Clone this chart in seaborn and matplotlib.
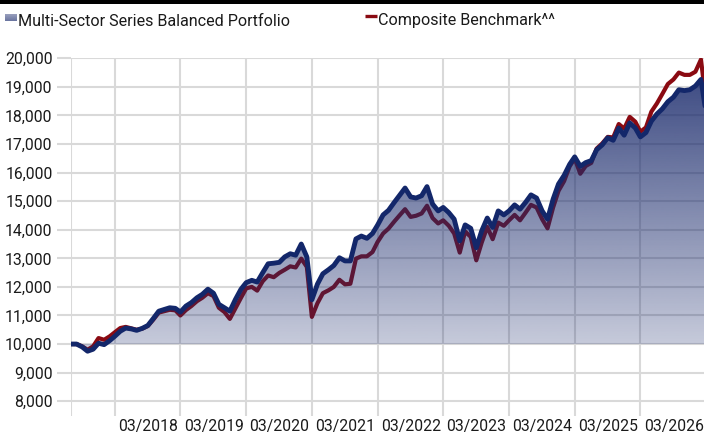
import numpy as np
import pandas as pd
import matplotlib
matplotlib.use("Agg")
import matplotlib.pyplot as plt
import matplotlib.dates as mdates
import matplotlib.transforms as mtransforms
from matplotlib.patches import Rectangle
from matplotlib.lines import Line2D
from matplotlib.ticker import FuncFormatter
import seaborn as sns

# ---------------- data ----------------
portfolio = [
    10000, 10000, 9900, 9750, 9820, 10030, 9980, 10120, 10270, 10450,
    10560, 10530, 10480, 10550, 10650, 10890, 11150, 11210, 11270, 11250,
    11120, 11330, 11450, 11620, 11740, 11920, 11780, 11390, 11270, 11150,
    11560, 11920, 12150, 12230, 12170, 12500, 12810, 12830, 12860, 13050,
    13160, 13110, 13500, 13050, 11550, 12100, 12460, 12600, 12750, 13020,
    12910, 12910, 13680, 13780, 13700, 13870, 14160, 14520, 14680, 14950,
    15200, 15460, 15150, 15110, 15190, 15510, 14900, 14660, 14780, 14600,
    14370, 13610, 14170, 14050, 13370, 13960, 14410, 14080, 14660, 14520,
    14660, 14870, 14720, 14960, 15220, 15110, 14660, 14370, 15070, 15600,
    15900, 16290, 16550, 16220, 16350, 16420, 16800, 16970, 17220, 17130,
    17560, 17310, 17740, 17560, 17250, 17400, 17800, 18050, 18230, 18480,
    18640, 18900, 18870, 18900, 19030, 19260, 18100,
]
benchmark = [
    10000, 10000, 9920, 9800, 9920, 10210, 10150, 10270, 10410, 10560,
    10600, 10550, 10500, 10540, 10630, 10850, 11100, 11150, 11200, 11180,
    11000, 11190, 11330, 11500, 11620, 11780, 11680, 11270, 11120, 10880,
    11250, 11620, 11950, 12000, 11870, 12200, 12400, 12340, 12490, 12600,
    12720, 12680, 12990, 12700, 10950, 11430, 11780, 11880, 12000, 12250,
    12090, 12110, 12990, 13070, 13070, 13220, 13570, 13870, 14040, 14280,
    14500, 14720, 14450, 14490, 14570, 14840, 14410, 14220, 14330, 14140,
    13870, 13200, 13940, 13750, 12930, 13550, 14100, 13670, 14250, 14140,
    14330, 14520, 14330, 14600, 14870, 14780, 14370, 14050, 14780, 15360,
    15700, 16220, 16490, 15960, 16230, 16340, 16840, 17020, 17250, 17230,
    17700, 17540, 17950, 17780, 17430, 17580, 18130, 18420, 18750, 19100,
    19260, 19500, 19420, 19420, 19530, 19960, 18450,
]
months = pd.date_range("2017-07-01", periods=len(portfolio), freq="MS")
tick_labels = ["03/2018", "03/2019", "03/2020", "03/2021", "03/2022",
               "03/2023", "03/2024", "03/2025", "03/2026"]
tick_dates = pd.to_datetime(["2018-03-01", "2019-03-01", "2020-03-01", "2021-03-01",
                             "2022-03-01", "2023-03-01", "2024-03-01", "2025-03-01",
                             "2026-03-01"])
y_ticks = list(range(8000, 20001, 1000))
series_names = ["Multi-Sector Series Balanced Portfolio", "Composite Benchmark^^"]

NAVY = "#13276a"
RED = "#8a0a12"
GRID = "#d9d9d9"
TEXT = "#1a1a1a"

sns.set_theme(style="white")
plt.rcParams["font.family"] = ["Roboto", "DejaVu Sans"]

W, H = 704, 434
fig = plt.figure(figsize=(W / 100, H / 100), dpi=100)
fig.patch.set_facecolor("white")
ax_l, ax_r, ax_top, ax_bot = 71, 704, 58.3, 415.5
ax = fig.add_axes([ax_l / W, 1 - ax_bot / H, (ax_r - ax_l) / W, (ax_bot - ax_top) / H])
ax.set_facecolor("white")

df = pd.DataFrame({"date": months, "portfolio": portfolio, "benchmark": benchmark})

sns.lineplot(data=df, x="date", y="benchmark", ax=ax, color=RED, lw=3.0,
             zorder=3, solid_joinstyle="round", solid_capstyle="round")

# gradient area between portfolio and 10,000
poly = ax.fill_between(df["date"], df["portfolio"], 10000, facecolor="none",
                       edgecolor="none", zorder=4)
x0 = mdates.date2num(months[0])
x1 = mdates.date2num(months[-1])
yv = np.linspace(20000, 9500, 400)
alpha = np.clip(0.25 + (yv - 10000) / 10000 * 0.64, 0.18, 0.92)
rgb = matplotlib.colors.to_rgb("#1a2a6c")
grad = np.zeros((len(yv), 1, 4))
grad[:, 0, 0], grad[:, 0, 1], grad[:, 0, 2] = rgb
grad[:, 0, 3] = alpha
im = ax.imshow(grad, extent=[x0, x1, 9500, 20000], aspect="auto",
               origin="upper", zorder=4, interpolation="bilinear")
im.set_clip_path(poly.get_paths()[0], transform=ax.transData)

sns.lineplot(data=df, x="date", y="portfolio", ax=ax, color=NAVY, lw=3.5,
             zorder=5, solid_joinstyle="round", solid_capstyle="round")

# axes limits
step = mdates.date2num(months[116]) - mdates.date2num(months[115])
ax.set_xlim(x0, mdates.date2num(months[115]) + 0.6 * step)
ax.set_ylim(7500, 20000)
ax.set_xlabel("")
ax.set_ylabel("")
for s in ax.spines.values():
    s.set_visible(False)

ax.set_yticks(y_ticks)
ax.yaxis.set_major_formatter(FuncFormatter(lambda v, p: f"{int(v):,}"))
ax.set_xticks([months[0]] + list(tick_dates))
ax.set_xticklabels([""] + tick_labels)
ax.grid(True, color=GRID, lw=1.5)
ax.set_axisbelow(True)
ax.tick_params(axis="y", length=10.1, width=1.5, color=GRID, pad=3.2,
               labelsize=11.3, labelcolor=TEXT, left=True)
ax.tick_params(axis="x", length=0, pad=2.5, labelsize=11.3, labelcolor=TEXT, bottom=True)
off = mtransforms.ScaledTranslation(3.4 / 100, 0, fig.dpi_scale_trans)
for lab in ax.get_xticklabels():
    lab.set_ha("left")
    lab.set_transform(lab.get_transform() + off)

# top black bar
fig.add_artist(Rectangle((0, 1 - 4.3 / H), 1, 4.3 / H, transform=fig.transFigure,
                         color="black", lw=0))

# legend (manual)
lax = fig.add_axes([5 / W, 1 - 21 / H, 12 / W, 7 / H])
lg = np.zeros((20, 1, 4))
lg[:, 0, 0], lg[:, 0, 1], lg[:, 0, 2] = rgb
lg[:, 0, 3] = np.linspace(0.45, 0.65, 20)
lax.imshow(lg, aspect="auto", extent=[0, 1, 0, 1])
lax.set_axis_off()
fig.add_artist(Line2D([365 / W, 377 / W], [1 - 15.5 / H] * 2, lw=2.4, color=RED,
                      transform=fig.transFigure, solid_capstyle="butt"))
fig.text(18 / W, 1 - 25.5 / H, series_names[0], fontsize=11.6, color=TEXT,
         ha="left", va="baseline")
fig.text(378 / W, 1 - 25.5 / H, series_names[1], fontsize=11.6, color=TEXT,
         ha="left", va="baseline")

fig.savefig("out.png", dpi=100, facecolor="white")
